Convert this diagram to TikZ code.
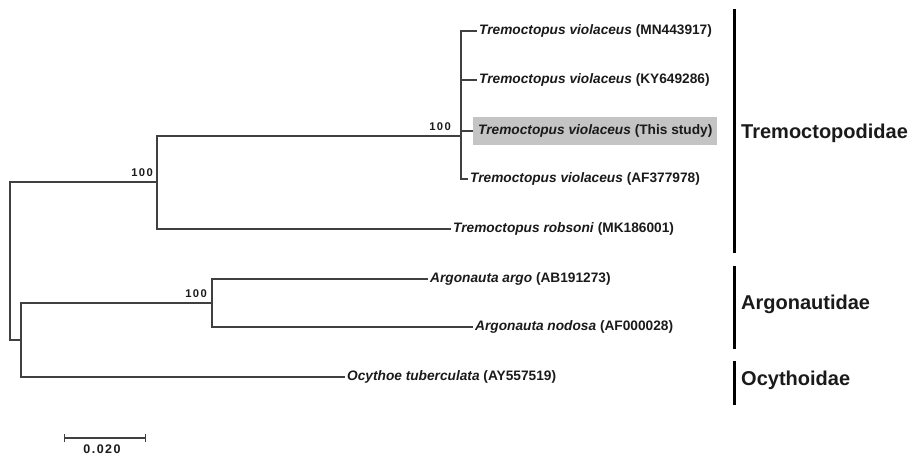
\documentclass[tikz,border=0pt]{standalone}
\usepackage{fontspec}
\setmainfont{Liberation Sans}
\newfontfamily\spacedsans{Liberation Sans}[LetterSpace=12]
\usepackage{tikz}
\usetikzlibrary{arrows.meta,positioning}
\definecolor{trline}{RGB}{64,64,64}
\definecolor{trtext}{RGB}{26,26,26}
\definecolor{trmark}{RGB}{196,196,196}

\begin{document}
\begin{tikzpicture}[x=1pt, y=-1pt,
  tip/.style={anchor=west, inner sep=2pt, text=trtext,
              font=\bfseries\fontsize{13.7}{16}\selectfont},
  hilite/.style={tip, fill=trmark, inner xsep=5pt, inner ysep=8pt},
  boot/.style={inner sep=0pt, text=trtext,
               font=\spacedsans\bfseries\fontsize{11.2}{13}\selectfont},
  sclab/.style={boot, font=\spacedsans\bfseries\fontsize{12.5}{14}\selectfont},
  fam/.style={anchor=west, inner sep=0pt, text=trtext,
              font=\bfseries\fontsize{20}{24}\selectfont},
  br/.style={draw=trline, line width=1.2pt},
  bar/.style={draw=black, line width=3pt},
  sbar/.style={br, {Bar[width=8pt]}-{Bar[width=8pt]}}]

\useasboundingbox (0,0) rectangle (911,457);

\node[tip] (t1) at (477,31) {\textit{Tremoctopus violaceus} (MN443917)};
\node[tip] (t2) at (477,80) {\textit{Tremoctopus violaceus} (KY649286)};
\node[hilite] (t3) at (473,131) {\textit{Tremoctopus violaceus} (This study)};
\node[tip] (t4) at (468,179) {\textit{Tremoctopus violaceus} (AF377978)};
\node[tip] (t5) at (451,229) {\textit{Tremoctopus robsoni} (MK186001)};
\node[tip] (t6) at (428,279) {\textit{Argonauta argo} (AB191273)};
\node[tip] (t7) at (473,327) {\textit{Argonauta nodosa} (AF000028)};
\node[tip] (t8) at (345,377) {\textit{Ocythoe tuberculata} (AY557519)};

\coordinate (root) at (10,261);
\coordinate (n1) at (157,182);
\coordinate (n2) at (461,136);
\coordinate (n3) at (21,340);
\coordinate (n4) at (212,303);

\draw[br] (n1) -| (root) |- (n3);
\draw[br] (n2) -| (n1) |- (t5.west);
\draw[br] (t1.west) -| (n2) |- (t4.west);
\draw[br] (n2 |- t2.west) -- (t2.west);
\draw[br] (n2 |- t3.west) -- (t3.west);
\draw[br] (n4) -| (n3) |- (t8.west);
\draw[br] (t6.west) -| (n4) |- (t7.west);

\node[boot, above left=5pt and 4pt of n1] (b1) {100};
\node[boot, above left=5pt and 10pt of n2] (b2) {100};
\node[boot, above left=5pt and 5pt of n4] (b3) {100};

\coordinate (f1a) at (734,9);
\coordinate (f1b) at (734,253);
\coordinate (f2a) at (734,266);
\coordinate (f2b) at (734,349);
\coordinate (f3a) at (734,361);
\coordinate (f3b) at (734,405);
\draw[bar] (f1a) -- (f1b);
\draw[bar] (f2a) -- (f2b);
\draw[bar] (f3a) -- (f3b);
\node[fam] (c1) at (741,133) {Tremoctopodidae};
\node[fam] (c2) at (741,304) {Argonautidae};
\node[fam] (c3) at (741,380) {Ocythoidae};

\coordinate (s0) at (64,438);
\coordinate (s1) at (146,438);
\draw[sbar] (s0) -- (s1) node[sclab, midway, below=6pt, xshift=-3pt] (sl) {0.020};
\end{tikzpicture}
\end{document}
